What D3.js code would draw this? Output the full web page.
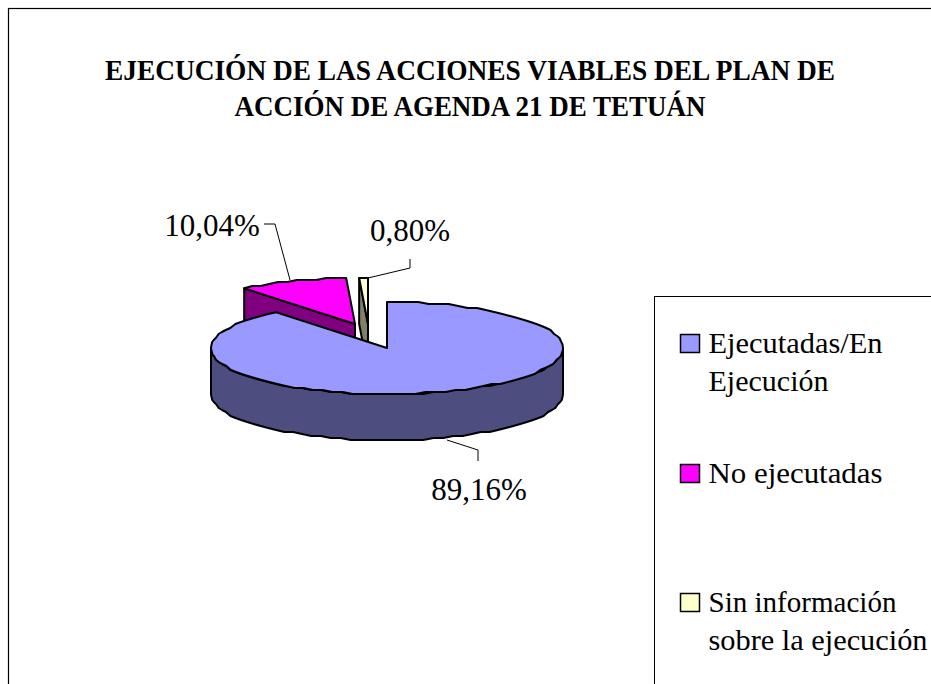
<!DOCTYPE html>
<html>
<head>
<meta charset="utf-8">
<script src="https://cdn.jsdelivr.net/npm/d3@7"></script>
<style>
  html, body { margin: 0; padding: 0; background: #fff; overflow: hidden; }
  text { font-family: "Liberation Serif", serif; fill: #000; }
</style>
</head>
<body>
<div id="chart"></div>
<script>
// chart values
const categories = ["Ejecutadas/En Ejecución", "No ejecutadas", "Sin información sobre la ejecución"];
const values = [89.16, 10.04, 0.80];
const valueLabels = ["89,16%", "10,04%", "0,80%"];
const topColors = ["#9999ff", "#ff00ff", "#ffffcc"];
const sideColors = ["#4d4d80", "#800080", "#808066"];
const titleLines = ["EJECUCIÓN DE LAS ACCIONES VIABLES DEL PLAN DE", "ACCIÓN DE AGENDA 21 DE TETUÁN"];
const legendLines = [["Ejecutadas/En", "Ejecución"], ["No ejecutadas"], ["Sin información", "sobre la ejecución"]];

const width = 931, height = 684;
const svg = d3.select("#chart").append("svg")
  .attr("width", width)
  .attr("height", height)
  .style("display", "block");

// chart area border, runs off the page on the right and at the bottom
svg.append("rect")
  .attr("x", 8.5).attr("y", 8.5)
  .attr("width", 940).attr("height", 700)
  .attr("fill", "#fff").attr("stroke", "#000").attr("stroke-width", 1.2);

// title, squeezed to the widths of the original
const titleWidths = [730, 471];
svg.selectAll("text.title")
  .data(titleLines)
  .enter().append("text")
  .attr("class", "title")
  .attr("x", 470)
  .attr("y", (d, i) => 80 + i * 36)
  .attr("text-anchor", "middle")
  .attr("font-size", 29)
  .attr("font-weight", "bold")
  .attr("textLength", (d, i) => titleWidths[i])
  .attr("lengthAdjust", "spacingAndGlyphs")
  .text(d => d);

// pie geometry
const rx = 176, ry = 46, depth = 46;
const center = [387, 348];
const offsets = [[0, 0], [-32, -24], [-19, -24]];  // exploded slices

const pie = d3.pie().sort(null).value(d => d)(values);

function rim(a, o) {
  return [center[0] + o[0] + rx * Math.sin(a), center[1] + o[1] - ry * Math.cos(a)];
}
// small steps on a rough y grid give the bumpy outline of the old renderer
function rimPoints(a0, a1, o, dy) {
  const n = Math.max(2, Math.ceil(Math.abs(a1 - a0) / 0.06));
  return d3.range(n + 1).map(i => {
    const p = rim(a0 + (a1 - a0) * i / n, o);
    const y = (i === 0 || i === n) ? p[1] : Math.round(p[1] / 2) * 2;
    return [p[0], y + dy];
  });
}
const line = d3.line();

// draw back to front: the two small slices, then the big one
[1, 2, 0].forEach(i => {
  const s = pie[i], o = offsets[i];
  const g = svg.append("g").attr("stroke", "#000").attr("stroke-width", 2).attr("stroke-linejoin", "round");
  const apex = [center[0] + o[0], center[1] + o[1]];

  if (i === 0) {
    // outer wall, front half of the rim only
    const front = rimPoints(Math.PI / 2, 3 * Math.PI / 2, o, 0);
    const frontDown = rimPoints(3 * Math.PI / 2, Math.PI / 2, o, depth);
    g.append("path").attr("d", line(front.concat(frontDown)) + "Z").attr("fill", sideColors[i]);
  } else {
    // cut face that shows from the left rim point to the apex
    const p = rim(s.startAngle, o);
    const face = [p, apex, [apex[0], apex[1] + depth], [p[0], p[1] + depth]];
    g.append("path").attr("d", line(face) + "Z").attr("fill", sideColors[i]);
  }

  const top = [apex].concat(rimPoints(s.startAngle, s.endAngle, o, 0));
  g.append("path").attr("d", line(top) + "Z").attr("fill", topColors[i]);
});

// leader lines
const leaders = [
  [[447, 440], [478, 450], [478, 461]],
  [[290, 280], [275, 224], [264, 224]],
  [[368, 278], [410, 268], [410, 259]]
];
svg.selectAll("path.leader")
  .data(leaders)
  .enter().append("path")
  .attr("class", "leader")
  .attr("d", d => line(d))
  .attr("fill", "none")
  .attr("stroke", "#000")
  .attr("stroke-width", 1);

// value labels
const labelPos = [[479, 500], [212, 236], [410, 241]];
svg.selectAll("text.value")
  .data(valueLabels)
  .enter().append("text")
  .attr("class", "value")
  .attr("x", (d, i) => labelPos[i][0])
  .attr("y", (d, i) => labelPos[i][1])
  .attr("text-anchor", "middle")
  .attr("font-size", 31)
  .text(d => d);

// legend
svg.append("rect")
  .attr("x", 654.5).attr("y", 296.5)
  .attr("width", 300).attr("height", 420)
  .attr("fill", "#fff").attr("stroke", "#000").attr("stroke-width", 1);

const legendBase = [353, 483, 612];
const legendWidths = [[174, 120], [174], [188, 219]];
const legend = svg.selectAll("g.legend")
  .data(categories)
  .enter().append("g")
  .attr("class", "legend");
legend.append("rect")
  .attr("x", 680.5)
  .attr("y", (d, i) => legendBase[i] - 18.5)
  .attr("width", 19).attr("height", 18)
  .attr("fill", (d, i) => topColors[i])
  .attr("stroke", "#000")
  .attr("stroke-width", 1.5);
legend.each(function (d, i) {
  d3.select(this).selectAll("text")
    .data(legendLines[i])
    .enter().append("text")
    .attr("x", 708.5)
    .attr("y", (t, j) => legendBase[i] + j * 38)
    .attr("font-size", 30)
    .attr("textLength", (t, j) => legendWidths[i][j])
    .attr("lengthAdjust", "spacingAndGlyphs")
    .text(t => t);
});
</script>
</body>
</html>
